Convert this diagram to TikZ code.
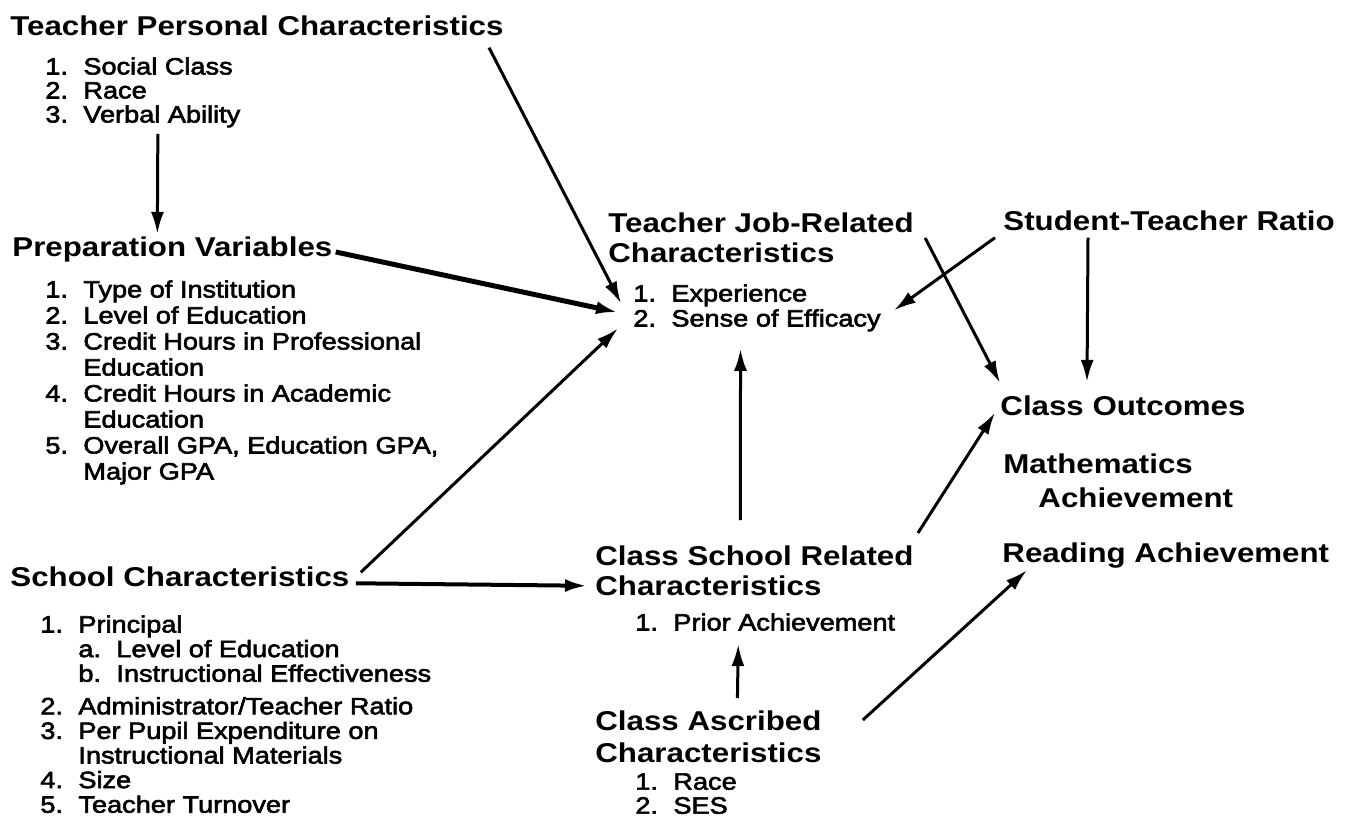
\documentclass[tikz,border=0pt]{standalone}
\usepackage{fontspec}
\setmainfont{Liberation Sans}[FakeStretch=1.15]
\newfontfamily\itemfont{Liberation Sans}[FakeStretch=1.15,FakeBold=2.5]
\usetikzlibrary{arrows.meta}

% numbered list entries
\newcommand{\lnum}[1]{\makebox[19pt][l]{#1}}
\newcommand{\lcont}{\hspace*{19pt}}

\tikzset{
  head/.style={anchor=base west,inner sep=0pt,align=left,
    font=\fontsize{13.6}{15}\selectfont\bfseries},
  items/.style={anchor=north west,inner sep=0pt,align=left,
    font=\itemfont\fontsize{11.8}{12.3}\selectfont},
  link/.style={line width=1.5pt,-{Latex[length=11pt,width=6.5pt]}},
}

\begin{document}
\begin{tikzpicture}[x=0.5pt,y=-0.5pt]
  \useasboundingbox (0,0) rectangle (1364,825);
  \draw
    (10,35) node[head] (tpc){Teacher Personal Characteristics}
    (45,57) node[items,font=\itemfont\fontsize{11.8}{12}\selectfont] (tpcitems){\lnum{1.}Social Class\\\lnum{2.}Race\\\lnum{3.}Verbal Ability}
    (12,256) node[head] (prep){Preparation Variables}
    (45,280) node[items,font=\itemfont\fontsize{11.8}{13}\selectfont] (prepitems){\lnum{1.}Type of Institution\\
      \lnum{2.}Level of Education\\
      \lnum{3.}Credit Hours in Professional\\\lcont Education\\
      \lnum{4.}Credit Hours in Academic\\\lcont Education\\
      \lnum{5.}Overall GPA, Education GPA,\\\lcont Major GPA}
    (10,586) node[head] (school){School Characteristics}
    (40,615) node[items] (schoolitems){\lnum{1.}Principal\\
      \lcont\lnum{a.}Level of Education\\
      \lcont\lnum{b.}Instructional Effectiveness\\[4pt]
      \lnum{2.}Administrator/Teacher Ratio\\
      \lnum{3.}Per Pupil Expenditure on\\\lcont Instructional Materials\\
      \lnum{4.}Size\\
      \lnum{5.}Teacher Turnover}
    (608,212) node[head,anchor=north west] (jobrel){Teacher Job-Related\\Characteristics}
    (633,284) node[items,font=\itemfont\fontsize{11.8}{12.5}\selectfont] (jobitems){\lnum{1.}Experience\\\lnum{2.}Sense of Efficacy}
    (595,545) node[head,anchor=north west] (csr){Class School Related\\Characteristics}
    (635,613) node[items] (csritems){\lnum{1.}Prior Achievement}
    (595,710) node[head,anchor=north west,font=\fontsize{13.6}{16}\selectfont\bfseries] (cac){Class Ascribed\\Characteristics}
    (635,773) node[items,font=\itemfont\fontsize{11.8}{12}\selectfont] (cacitems){\lnum{1.}Race\\\lnum{2.}SES}
    (1003,230) node[head] (str){Student-Teacher Ratio}
    (1000,415) node[head] (outcomes){Class Outcomes}
    (1003,453) node[head,anchor=north west,font=\fontsize{13.6}{17}\selectfont\bfseries] (math){Mathematics\\\hspace*{17.5pt}Achievement}
    (1002,562) node[head] (reading){Reading Achievement};
  \begin{scope}[link]
    \draw ([shift={(15,6)}]tpcitems.south) to ([shift={(-15,-2)}]prep.north);
    \draw ([shift={(-15,12)}]tpc.south east) to ([shift={(-12,-4.5)}]jobitems.west);
    \draw[line width=2.5pt] ([shift={(3,3)}]prep.east) to ([shift={(-15,4.5)}]jobitems.west);
    \draw ([shift={(11,-4)}]school.east) to ([shift={(-15,20.5)}]jobitems.west);
    \draw[line width=2pt] ([shift={(6,7)}]school.east) to ([shift={(-8,-10)}]csr.south west);
    \draw ([shift={(-14,-25)}]csr.north) to ([shift={(-16.5,17)}]jobitems.south);
    \draw ([shift={(29,-12)}]cac.north) to ([shift={(-27,13)}]csritems.south);
    \draw ([shift={(-8,7)}]str.south west) to ([shift={(13,2.5)}]jobitems.east);
    \draw ([shift={(85,7)}]str.south west) to ([shift={(87,-13)}]outcomes.north west);
    \draw ([shift={(11,26)}]jobrel.north east) to ([shift={(0,-12)}]outcomes.north west);
    \draw ([shift={(4,-12)}]csr.north east) to ([shift={(-5,-3)}]outcomes.south west);
    \draw ([shift={(41,10)}]cac.north east) to ([shift={(25,2)}]reading.south west);
  \end{scope}
\end{tikzpicture}
\end{document}
